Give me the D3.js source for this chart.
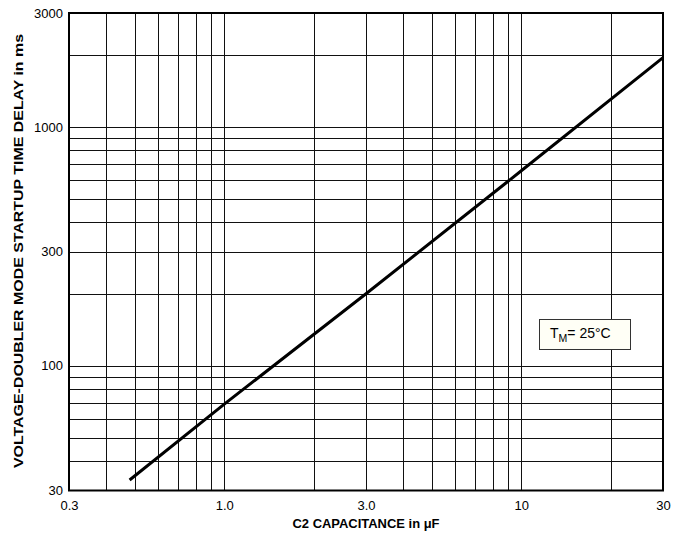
<!DOCTYPE html>
<html><head><meta charset="utf-8">
<script src="https://cdn.jsdelivr.net/npm/d3@7"></script>
<style>body{margin:0;background:#fff;} svg{display:block;font-family:"Liberation Sans",Arial,sans-serif;}</style>
</head><body>
<script>
const capacitance = [0.48, 1.0, 3.0, 10, 30];
const delayMs = [33.2, 69, 200, 655, 1950];
const xTicks = [0.3, 1.0, 3.0, 10, 30];
const xTickLabels = ["0.3", "1.0", "3.0", "10", "30"];
const yTicks = [30, 100, 300, 1000, 3000];
const yTickLabels = ["30", "100", "300", "1000", "3000"];
const xGrid = [0.4,0.5,0.6,0.7,0.8,0.9,1,2,3,4,5,6,7,8,9,10,20];
const yGrid = [40,50,60,70,80,90,100,200,300,400,500,600,700,800,900,1000,2000];

const W = 680, H = 534;
const m = {left: 69, right: 17, top: 13, bottom: 43.5};
const svg = d3.select("body").append("svg").attr("width", W).attr("height", H);
const x = d3.scaleLog().domain([0.3, 30]).range([m.left, W - m.right]);
const y = d3.scaleLog().domain([30, 3000]).range([H - m.bottom, m.top]);

const g = svg.append("g");
g.selectAll("line.vx").data(xGrid).join("line")
  .attr("x1", d => Math.round(x(d)) + 0.5).attr("x2", d => Math.round(x(d)) + 0.5)
  .attr("y1", y(30)).attr("y2", y(3000)).attr("stroke", "#111").attr("stroke-width", 1);
g.selectAll("line.hy").data(yGrid).join("line")
  .attr("y1", d => Math.round(y(d)) + 0.5).attr("y2", d => Math.round(y(d)) + 0.5)
  .attr("x1", x(0.3)).attr("x2", x(30)).attr("stroke", "#111").attr("stroke-width", 1);

// border
svg.append("rect").attr("x", x(0.3)).attr("y", y(3000))
  .attr("width", x(30) - x(0.3)).attr("height", y(30) - y(3000))
  .attr("fill", "none").attr("stroke", "#000").attr("stroke-width", 2);

// axes tick labels
const xAxis = d3.axisBottom(x).tickValues(xTicks).tickFormat((d, i) => xTickLabels[i]).tickSize(0).tickPadding(10);
const xa = svg.append("g").attr("transform", `translate(0,${y(30)})`).call(xAxis);
xa.select(".domain").remove();
xa.selectAll("text").attr("font-size", 13).attr("fill", "#000").attr("font-family", "Liberation Sans, Arial, sans-serif");

const yAxis = d3.axisLeft(y).tickValues(yTicks).tickFormat((d, i) => yTickLabels[i]).tickSize(0).tickPadding(6);
const ya = svg.append("g").attr("transform", `translate(${x(0.3)},0)`).call(yAxis);
ya.select(".domain").remove();
ya.selectAll("text").attr("font-size", 13).attr("fill", "#000").attr("font-family", "Liberation Sans, Arial, sans-serif");

// curve
const pts = capacitance.map((c, i) => [c, delayMs[i]]);
svg.append("path").datum(pts)
  .attr("d", d3.line().x(d => x(d[0])).y(d => y(d[1])))
  .attr("fill", "none").attr("stroke", "#000").attr("stroke-width", 3);

// annotation box
svg.append("rect").attr("x", 539.5).attr("y", 319.5).attr("width", 91).attr("height", 30)
  .attr("fill", "#fffff6").attr("stroke", "#333").attr("stroke-width", 1);
const t = svg.append("text").attr("x", 550).attr("y", 338).attr("font-size", 14).attr("fill", "#000");
t.append("tspan").text("T");
t.append("tspan").attr("font-size", 10.5).attr("dy", 4).text("M");
t.append("tspan").attr("dy", -4).text("= 25°C");

// axis titles
svg.append("text").attr("x", 366).attr("y", 528).attr("text-anchor", "middle")
  .attr("font-size", 12.5).attr("font-weight", "bold")
  .attr("textLength", 147).attr("lengthAdjust", "spacingAndGlyphs").text("C2 CAPACITANCE in μF");
svg.append("text").attr("transform", "translate(23,251) rotate(-90)").attr("text-anchor", "middle")
  .attr("font-size", 13).attr("font-weight", "bold")
  .attr("textLength", 434).attr("lengthAdjust", "spacingAndGlyphs")
  .text("VOLTAGE-DOUBLER MODE STARTUP TIME DELAY in ms");
</script>
</body></html>
